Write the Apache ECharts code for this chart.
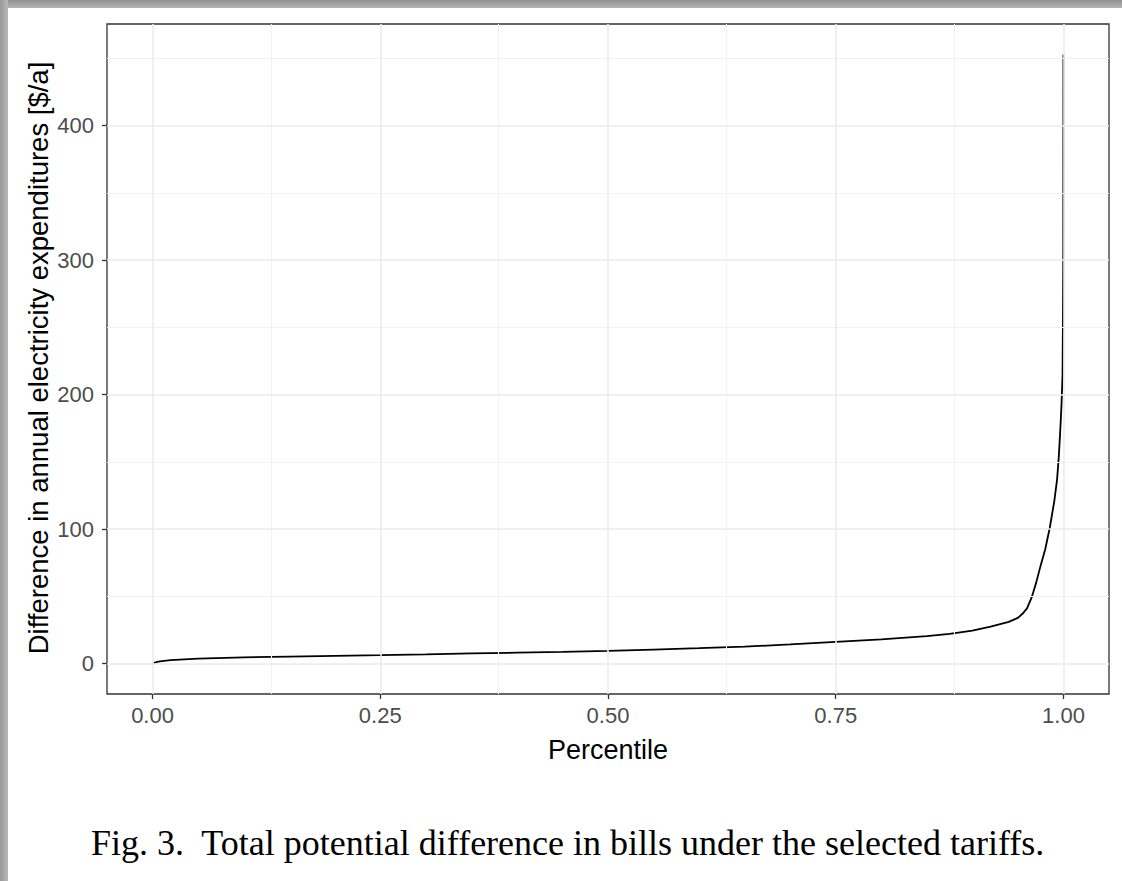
<!DOCTYPE html>
<html>
<head>
<meta charset="utf-8">
<script src="https://cdn.jsdelivr.net/npm/echarts@6/dist/echarts.min.js"></script>
<style>
  html, body { margin: 0; padding: 0; background: #ffffff; }
  #wrap { position: relative; width: 1122px; height: 881px; overflow: hidden; background: #ffffff; }
  #topband { position: absolute; left: 0; top: 0; width: 1122px; height: 8px;
    background: linear-gradient(to bottom, #8f8f8f, #b4b4b4); }
  #leftband { position: absolute; left: 0; top: 0; width: 8px; height: 881px;
    background: linear-gradient(to right, #9a9a9a, #b8b8b8); }
  #chart { position: absolute; left: 0; top: 0; width: 1122px; height: 881px; }
</style>
</head>
<body>
<div id="wrap">
  <div id="topband"></div>
  <div id="leftband"></div>
  <div id="chart"></div>
</div>
<script>
// ---- data ----
const percentile = [0, 0.005, 0.01, 0.02, 0.05, 0.1, 0.15, 0.2, 0.25, 0.3, 0.35, 0.4, 0.45, 0.5,
  0.55, 0.6, 0.65, 0.7, 0.75, 0.8, 0.85, 0.875, 0.9, 0.92, 0.94, 0.95, 0.955, 0.96, 0.965,
  0.97, 0.975, 0.98, 0.985, 0.99, 0.993, 0.995, 0.997, 0.998, 0.999, 0.9995, 0.9998, 1.0];
const difference = [0, 1.2, 1.8, 2.5, 3.7, 4.6, 5.2, 5.7, 6.2, 6.8, 7.5, 8.1, 8.7, 9.4,
  10.4, 11.4, 12.6, 14.2, 16.1, 18.0, 20.4, 22.0, 24.5, 27.5, 31, 34, 37, 41, 49,
  60, 73, 85, 101, 121, 137, 155, 180, 195, 215, 260, 300, 453];
const xTicks = [0, 0.25, 0.5, 0.75, 1.0];
const xMinor = [0.125, 0.375, 0.625, 0.875];
const yTicks = [0, 100, 200, 300, 400];
const yMinor = [50, 150, 250, 350, 450];
const xTitle = 'Percentile';
const yTitle = 'Difference in annual electricity expenditures [$/a]';
const caption = 'Fig. 3.\u00A0 Total potential difference in bills under the selected tariffs.';

// ggplot-like expanded ranges (5%)
const xMin = -0.05, xMax = 1.05;
const yMax = Math.max(...difference);
const yLo = -0.05 * yMax, yHi = yMax * 1.05;

const seriesData = percentile.map((p, i) => [p, difference[i]]);

const gridMajor = xTicks.map(v => ({ xAxis: v })).concat(yTicks.map(v => ({ yAxis: v })));
const gridMinor = xMinor.map(v => ({ xAxis: v })).concat(yMinor.map(v => ({ yAxis: v })));

const sans = 'Liberation Sans, Arial, sans-serif';
const tickFont = { fontFamily: sans, fontSize: 22, color: '#4D4D4D' };

const chart = echarts.init(document.getElementById('chart'), null, { renderer: 'svg' });
chart.setOption({
  backgroundColor: 'transparent',
  animation: false,
  title: {
    text: caption,
    left: 86,
    top: 820,
    textStyle: { fontFamily: 'Liberation Serif, Times New Roman, serif', fontSize: 36, fontWeight: 'normal', color: '#000000' }
  },
  graphic: [{
    type: 'text',
    x: 38, y: 358,
    rotation: Math.PI / 2,
    style: { text: yTitle, fontFamily: sans, fontSize: 27.5, fill: '#000000', align: 'center', verticalAlign: 'middle' },
    silent: true
  }],
  grid: {
    left: 107, top: 24, width: 1002, height: 670,
    show: true, backgroundColor: '#ffffff', borderColor: '#333333', borderWidth: 1.3
  },
  xAxis: {
    type: 'value', min: xMin, max: xMax,
    name: xTitle, nameLocation: 'middle', nameGap: 42,
    nameTextStyle: { fontFamily: sans, fontSize: 27, color: '#000000' },
    axisLine: { show: false, onZero: false },
    splitLine: { show: false },
    axisTick: { show: true, customValues: xTicks, length: 5, lineStyle: { color: '#333333', width: 1.3 } },
    axisLabel: Object.assign({ customValues: xTicks, margin: 10, formatter: v => v.toFixed(2) }, tickFont)
  },
  yAxis: {
    type: 'value', min: yLo, max: yHi,
    axisLine: { show: false, onZero: false },
    splitLine: { show: false },
    axisTick: { show: true, customValues: yTicks, length: 5, lineStyle: { color: '#333333', width: 1.3 } },
    axisLabel: Object.assign({ customValues: yTicks, margin: 13, formatter: v => String(Math.round(v)) }, tickFont)
  },
  series: [
    {
      name: 'minor', type: 'line', data: [], z: 1, silent: true,
      markLine: { silent: true, symbol: 'none', animation: false, label: { show: false },
        lineStyle: { color: '#F2F2F2', width: 1, type: 'solid' }, emphasis: { disabled: true }, data: gridMinor }
    },
    {
      name: 'major', type: 'line', data: [], z: 1, silent: true,
      markLine: { silent: true, symbol: 'none', animation: false, label: { show: false },
        lineStyle: { color: '#EBEBEB', width: 1.6, type: 'solid' }, emphasis: { disabled: true }, data: gridMajor }
    },
    {
      name: 'difference', type: 'line', data: seriesData, z: 3,
      showSymbol: false, symbol: 'none', smooth: false,
      lineStyle: { color: '#000000', width: 1.8 }
    }
  ]
});
</script>
</body>
</html>
